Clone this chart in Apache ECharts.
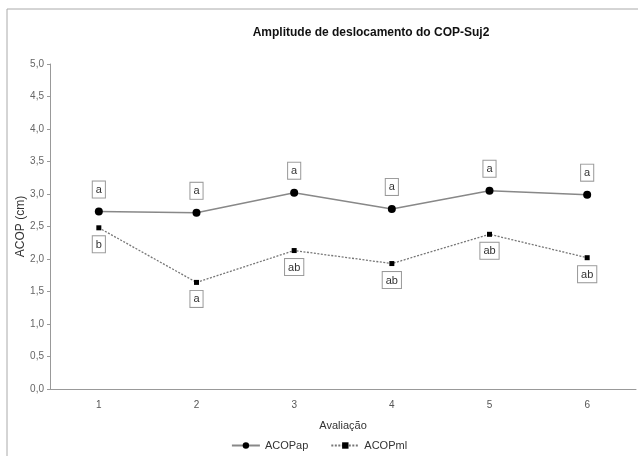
<!DOCTYPE html>
<html><head><meta charset="utf-8">
<script src="https://cdn.jsdelivr.net/npm/echarts@6/dist/echarts.min.js"></script>
<style>html,body{margin:0;padding:0;background:#fff}#c{width:638px;height:456px}</style>
</head><body><div id="c"></div>
<script>
const categories = ['1','2','3','4','5','6'];
const apValues = [2.73, 2.71, 3.02, 2.77, 3.05, 2.99];
const mlValues = [2.48, 1.64, 2.13, 1.93, 2.38, 2.02];
const apLetters = ['a','a','a','a','a','a'];
const mlLetters = ['b','a','ab','ab','ab','ab'];

const font = 'Liberation Sans, Arial, sans-serif';
const boxLabel = (letters, pos, dist) => ({
  show: true, position: pos, distance: dist,
  formatter: p => letters[p.dataIndex],
  fontFamily: font, fontSize: 11, color: '#333',
  backgroundColor: '#fff', borderColor: '#999', borderWidth: 1,
  padding: [3, 3, 2, 3]
});
const chart = echarts.init(document.getElementById('c'));
chart.setOption({
  animation: false,
  title: { text: 'Amplitude de deslocamento do COP-Suj2', left: 366, top: 22, textAlign: 'center',
    textStyle: { fontFamily: font, fontSize: 12, fontWeight: 'bold', color: '#111' } },
  graphic: [{ type: 'rect', shape: { x: 7, y: 9, width: 700, height: 500 }, style: { fill: 'none', stroke: '#aaa', lineWidth: 1 }, silent: true }],
  grid: { left: 50, right: 2, top: 64, bottom: 67 },
  legend: { bottom: 0, left: 'center', itemWidth: 28, itemHeight: 8, itemGap: 22,
    textStyle: { fontFamily: font, fontSize: 11, color: '#333' },
    data: ['ACOPap', 'ACOPml'] },
  xAxis: { type: 'category', data: categories, boundaryGap: true,
    name: 'Avaliação', nameLocation: 'middle', nameGap: 31, nameMoveOverlap: false,
    nameTextStyle: { fontFamily: font, fontSize: 11, color: '#333' },
    axisLine: { lineStyle: { color: '#999' } },
    axisTick: { alignWithLabel: true, length: 4, lineStyle: { color: '#999' } },
    axisLabel: { fontFamily: font, fontSize: 10, color: '#555', margin: 11 } },
  yAxis: { type: 'value', min: 0, max: 5, interval: 0.5,
    name: 'ACOP (cm)', nameLocation: 'middle', nameGap: 23, nameMoveOverlap: false,
    nameTextStyle: { fontFamily: font, fontSize: 12, color: '#333' },
    axisLine: { show: true, lineStyle: { color: '#999' } },
    axisTick: { show: true, length: 3, inside: false, lineStyle: { color: '#999' } },
    splitLine: { show: false },
    axisLabel: { fontFamily: font, fontSize: 10, color: '#666', margin: 6,
      formatter: v => v.toFixed(1).replace('.', ',') } },
  series: [
    { name: 'ACOPap', type: 'line', data: apValues, symbol: 'circle', symbolSize: 8,
      itemStyle: { color: '#000' }, lineStyle: { color: '#888', width: 1.5 },
      label: boxLabel(apLetters, 'top', 10) },
    { name: 'ACOPml', type: 'line', data: mlValues, symbol: 'rect', symbolSize: 5,
      itemStyle: { color: '#000' }, lineStyle: { color: '#777', width: 1.3, type: [2, 1.5] },
      label: boxLabel(mlLetters, 'bottom', 6) }
  ]
});
</script></body></html>
